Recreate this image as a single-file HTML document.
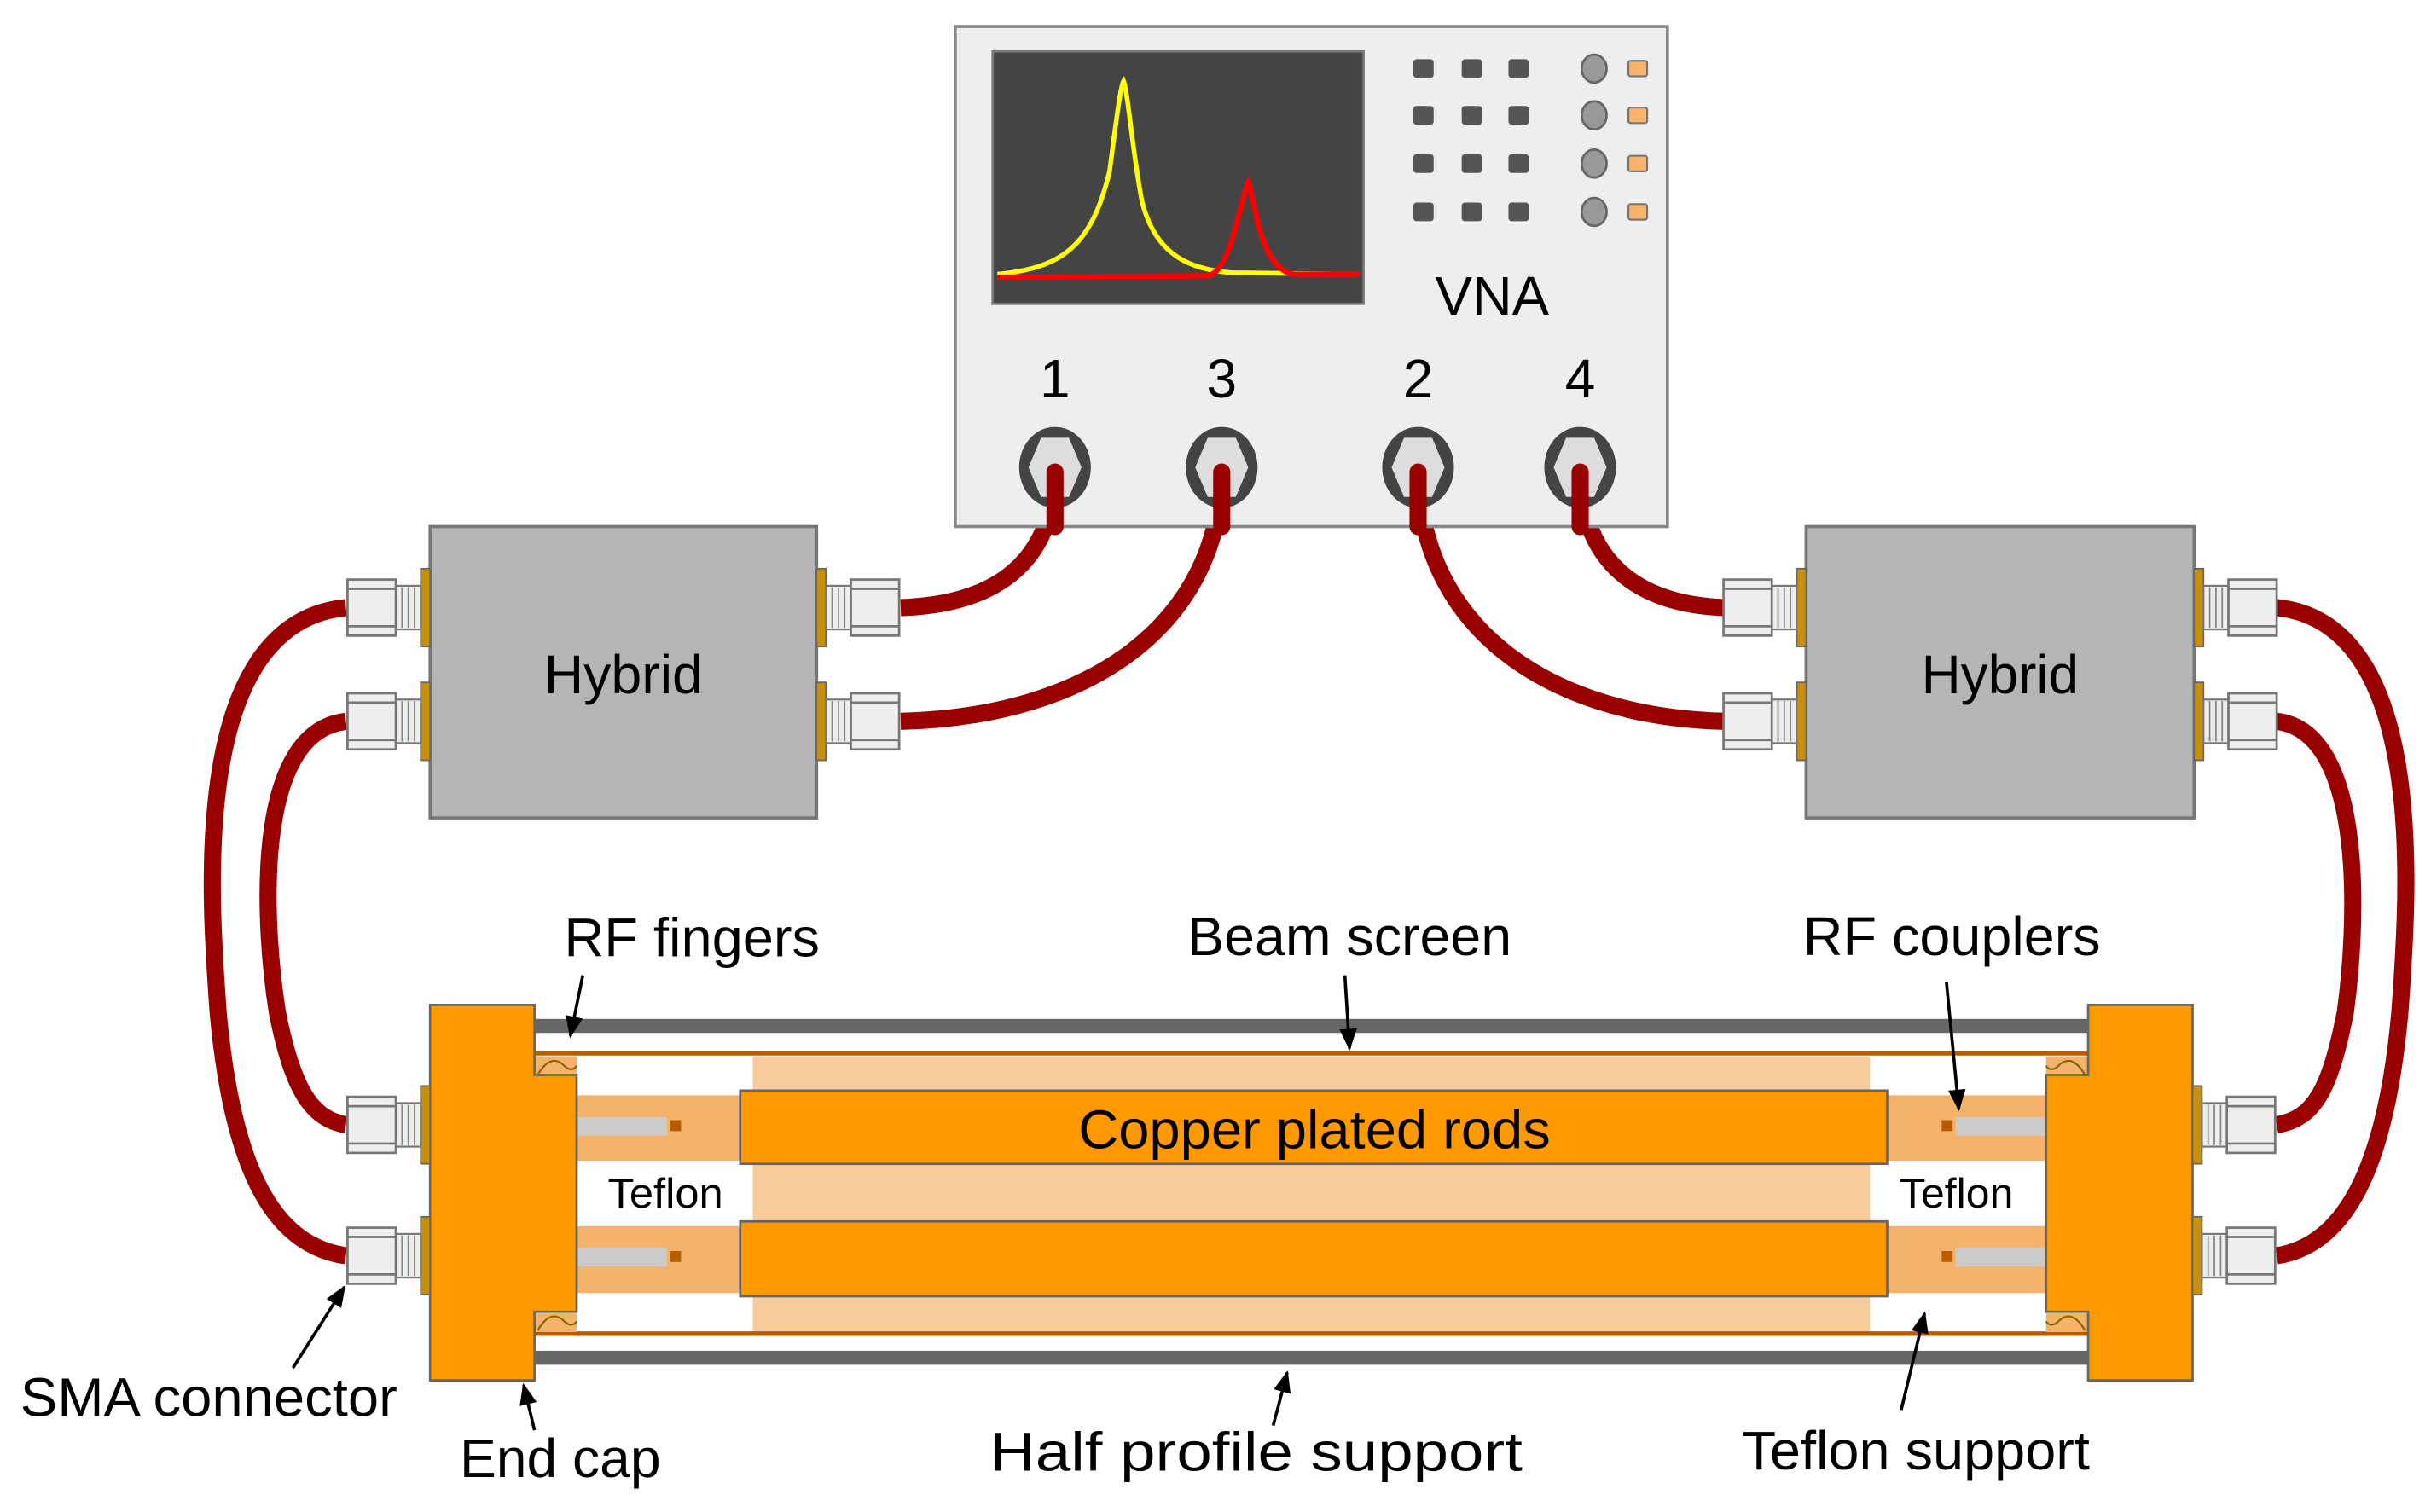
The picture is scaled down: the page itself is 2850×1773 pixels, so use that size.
<!DOCTYPE html>
<html><head><meta charset="utf-8"><style>html,body{margin:0;padding:0;background:#fff}svg{display:block}text{font-family:"Liberation Sans",Arial,sans-serif;fill:#000}</style></head>
<body>
<svg width="2850" height="1773" viewBox="0 0 1560 970.5" preserveAspectRatio="none" xmlns="http://www.w3.org/2000/svg">
<defs>
<marker id="ah" viewBox="0 0 10 10" refX="9" refY="5" markerWidth="7" markerHeight="7" orient="auto"><path d="M0,1 L10,5 L0,9 z" fill="#000"/></marker>
<g id="conL">
<rect x="-6" y="-25" width="6" height="50" fill="#c8900a" stroke="#666" stroke-width="1"/>
<rect x="-22" y="-14" width="16" height="28" fill="#eee" stroke="#777" stroke-width="1.2"/>
<line x1="-18" y1="-13" x2="-18" y2="13" stroke="#888"/><line x1="-14" y1="-13" x2="-14" y2="13" stroke="#888"/><line x1="-10" y1="-13" x2="-10" y2="13" stroke="#888"/>
<rect x="-53" y="-18" width="31" height="36" fill="#eee" stroke="#777" stroke-width="1.5"/>
<line x1="-53" y1="-12" x2="-22" y2="-12" stroke="#777" stroke-width="1.5"/><line x1="-53" y1="12" x2="-22" y2="12" stroke="#777" stroke-width="1.5"/>
</g>
<g id="port">
<ellipse rx="23" ry="26" fill="#444"/>
<path d="M-9,-19 L9,-19 L17,0 L9,19 L-9,19 L-17,0 z" fill="#ddd"/>
</g>
</defs>

<!-- cables -->
<g fill="none" stroke="#990000" stroke-width="11" stroke-linecap="butt">
<path d="M677,300 C677,360 640,388 578,390"/>
<path d="M784,300 C784,400 700,460 578,463"/>
<path d="M910,300 C910,400 990,460 1107,463"/>
<path d="M1014,300 C1014,360 1050,388 1107,390"/>
<path d="M222,390 C120,400 135,580 140,650 C150,760 180,800 222,806"/>
<path d="M222,463 C160,470 170,600 178,650 C188,700 200,718 222,722"/>
<path d="M1461,390 C1560,400 1545,580 1540,650 C1530,760 1500,800 1461,806"/>
<path d="M1461,463 C1520,470 1512,600 1505,650 C1495,700 1485,718 1461,722"/>
</g>

<!-- VNA -->
<rect x="613" y="17" width="457" height="321" fill="#eee" stroke="#888" stroke-width="2"/>
<rect x="637" y="33" width="238" height="162" fill="#444" stroke="#777" stroke-width="1.5"/>
<path d="M640,176 C680,172 700,160 712,110 C716,80 719,55 721,52 C724,60 727,100 733,130 C742,165 765,173 790,175 L872,176" fill="none" stroke="#ffff00" stroke-width="3"/>
<path d="M640,178 L775,177 C790,175 795,130 801,117 C806,130 808,172 830,176 L872,176" fill="none" stroke="#ff0000" stroke-width="3.5"/>
<g fill="#555">
<rect x="907" y="38" width="13" height="12" rx="2"/><rect x="938" y="38" width="13" height="12" rx="2"/><rect x="968" y="38" width="13" height="12" rx="2"/>
<rect x="907" y="68" width="13" height="12" rx="2"/><rect x="938" y="68" width="13" height="12" rx="2"/><rect x="968" y="68" width="13" height="12" rx="2"/>
<rect x="907" y="99" width="13" height="12" rx="2"/><rect x="938" y="99" width="13" height="12" rx="2"/><rect x="968" y="99" width="13" height="12" rx="2"/>
<rect x="907" y="130" width="13" height="12" rx="2"/><rect x="938" y="130" width="13" height="12" rx="2"/><rect x="968" y="130" width="13" height="12" rx="2"/>
</g>
<g fill="#999" stroke="#666" stroke-width="1.5">
<ellipse cx="1023" cy="44" rx="8" ry="9"/><ellipse cx="1023" cy="74" rx="8" ry="9"/><ellipse cx="1023" cy="105" rx="8" ry="9"/><ellipse cx="1023" cy="136" rx="8" ry="9"/>
</g>
<g fill="#f8b46a" stroke="#777" stroke-width="1.2">
<rect x="1045" y="39" width="12" height="10" rx="1.5"/><rect x="1045" y="69" width="12" height="10" rx="1.5"/><rect x="1045" y="100" width="12" height="10" rx="1.5"/><rect x="1045" y="131" width="12" height="10" rx="1.5"/>
</g>
<text x="921" y="202" font-size="35" textLength="73" lengthAdjust="spacingAndGlyphs">VNA</text>
<g font-size="35" text-anchor="middle">
<text x="677" y="255">1</text><text x="784" y="255">3</text><text x="910" y="255">2</text><text x="1014" y="255">4</text>
</g>
<use href="#port" x="677" y="300"/><use href="#port" x="784" y="300"/><use href="#port" x="910" y="300"/><use href="#port" x="1014" y="300"/>
<g fill="none" stroke="#990000" stroke-width="11" stroke-linecap="round">
<path d="M677,303 L677,338"/><path d="M784,303 L784,338"/><path d="M910,303 L910,338"/><path d="M1014,303 L1014,338"/>
</g>

<!-- Hybrids -->
<rect x="276" y="338" width="248" height="187" fill="#b5b5b5" stroke="#777" stroke-width="2"/>
<text x="349" y="445" font-size="35" textLength="102" lengthAdjust="spacingAndGlyphs">Hybrid</text>
<rect x="1159" y="338" width="249" height="187" fill="#b5b5b5" stroke="#777" stroke-width="2"/>
<text x="1233" y="445" font-size="35" textLength="101" lengthAdjust="spacingAndGlyphs">Hybrid</text>
<use href="#conL" x="276" y="390"/><use href="#conL" x="276" y="463"/>
<use href="#conL" transform="translate(524,390) scale(-1,1)"/><use href="#conL" transform="translate(524,463) scale(-1,1)"/>
<use href="#conL" x="1159" y="390"/><use href="#conL" x="1159" y="463"/>
<use href="#conL" transform="translate(1408,390) scale(-1,1)"/><use href="#conL" transform="translate(1408,463) scale(-1,1)"/>

<!-- Tube assembly -->
<rect x="343" y="654" width="997" height="9" fill="#666"/>
<rect x="343" y="867" width="997" height="9" fill="#666"/>
<rect x="483" y="678" width="717" height="177" fill="#f8cb9c"/>
<line x1="343" y1="676" x2="1340" y2="676" stroke="#b85c00" stroke-width="3"/>
<line x1="343" y1="856" x2="1340" y2="856" stroke="#b85c00" stroke-width="3"/>
<g fill="#f4b26b">
<rect x="370" y="703" width="106" height="42"/><rect x="370" y="787" width="106" height="43"/>
<rect x="1210" y="703" width="103" height="42"/><rect x="1210" y="787" width="103" height="43"/>
<rect x="343" y="678" width="27" height="12"/><rect x="343" y="843" width="27" height="12"/>
<rect x="1313" y="678" width="27" height="12"/><rect x="1313" y="843" width="27" height="12"/>
</g>
<g fill="none" stroke="#886600" stroke-width="1.2">
<path d="M345,690 C352,678 358,680 362,684 C366,688 369,686 370,684"/><path d="M345,854 C352,842 358,844 362,848 C366,852 369,850 370,848"/>
<path d="M1338,690 C1331,678 1325,680 1321,684 C1317,688 1314,686 1313,684"/><path d="M1338,854 C1331,842 1325,844 1321,848 C1317,852 1314,850 1313,848"/>
</g>
<g fill="#cbcbcb"><rect x="370" y="717" width="58" height="12"/><rect x="370" y="801" width="58" height="12"/><rect x="1255" y="717" width="58" height="12"/><rect x="1255" y="801" width="58" height="12"/></g>
<g fill="#b85c00"><rect x="430" y="719" width="7" height="7"/><rect x="430" y="803" width="7" height="7"/><rect x="1246" y="719" width="7" height="7"/><rect x="1246" y="803" width="7" height="7"/></g>
<rect x="475" y="700" width="736" height="47" fill="#f90" stroke="#666" stroke-width="1.5"/>
<rect x="475" y="784" width="736" height="48" fill="#f90" stroke="#666" stroke-width="1.5"/>
<text x="692" y="737" font-size="35" textLength="303" lengthAdjust="spacingAndGlyphs">Copper plated rods</text>
<path d="M276,645 L343,645 L343,690 L370,690 L370,842 L343,842 L343,886 L276,886 z" fill="#f90" stroke="#666" stroke-width="1.5"/>
<path d="M1407,645 L1340,645 L1340,690 L1313,690 L1313,842 L1340,842 L1340,886 L1407,886 z" fill="#f90" stroke="#666" stroke-width="1.5"/>
<use href="#conL" x="276" y="722"/><use href="#conL" x="276" y="806"/>
<use href="#conL" transform="translate(1407,722) scale(-1,1)"/><use href="#conL" transform="translate(1407,806) scale(-1,1)"/>
<text x="390" y="775" font-size="27" textLength="74" lengthAdjust="spacingAndGlyphs">Teflon</text>
<text x="1219" y="775" font-size="27" textLength="73" lengthAdjust="spacingAndGlyphs">Teflon</text>

<!-- labels & arrows -->
<g font-size="35" lengthAdjust="spacingAndGlyphs">
<text x="362" y="614" textLength="164" lengthAdjust="spacingAndGlyphs">RF fingers</text>
<text x="762" y="613" textLength="208" lengthAdjust="spacingAndGlyphs">Beam screen</text>
<text x="1157" y="613" textLength="191" lengthAdjust="spacingAndGlyphs">RF couplers</text>
<text x="13" y="909" textLength="242" lengthAdjust="spacingAndGlyphs">SMA connector</text>
<text x="295" y="948" textLength="129" lengthAdjust="spacingAndGlyphs">End cap</text>
<text x="635" y="944" textLength="342" lengthAdjust="spacingAndGlyphs">Half profile support</text>
<text x="1118" y="943" textLength="223" lengthAdjust="spacingAndGlyphs">Teflon support</text>
</g>
<g stroke="#000" stroke-width="2" marker-end="url(#ah)">
<line x1="374" y1="626" x2="366" y2="665"/>
<line x1="863" y1="626" x2="866" y2="673"/>
<line x1="1249" y1="630" x2="1257" y2="712"/>
<line x1="188" y1="878" x2="221" y2="826"/>
<line x1="343" y1="918" x2="336" y2="889"/>
<line x1="817" y1="915" x2="826" y2="881"/>
<line x1="1220" y1="905" x2="1235" y2="843"/>
</g>
</svg>
</body></html>
